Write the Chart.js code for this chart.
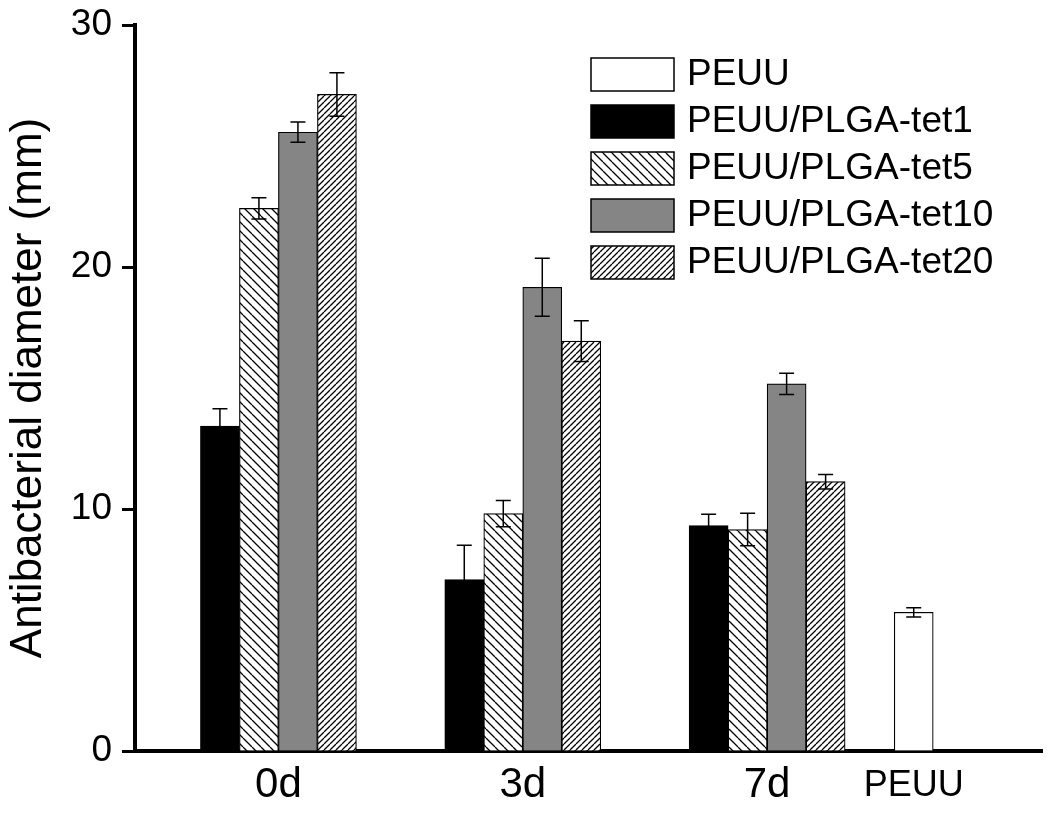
<!DOCTYPE html>
<html>
<head>
<meta charset="utf-8">
<title>Antibacterial diameter</title>
<script src="https://cdn.jsdelivr.net/npm/chart.js@4.4.0/dist/chart.umd.min.js"></script>
<style>
    html, body { margin: 0; padding: 0; background: #fff; }
    #wrap { width: 1050px; height: 817px; }
</style>
</head>
<body>
<div id="wrap"><canvas id="diameterChart" width="1050" height="817"></canvas></div>
<script>
// Antibacterial diameter - grouped bars with error bars

const groups = ['0d', '3d', '7d', 'PEUU'];
const seriesNames = ['PEUU', 'PEUU/PLGA-tet1', 'PEUU/PLGA-tet5', 'PEUU/PLGA-tet10', 'PEUU/PLGA-tet20'];

const peuu = [null, null, null, 5.73];
const peuuErr = [null, null, null, 0.19];
const tet1 = [13.43, 7.08, 9.31, null];
const tet1Err = [0.71, 1.42, 0.47, null];
const tet5 = [22.42, 9.81, 9.15, null];
const tet5Err = [0.44, 0.54, 0.67, null];
const tet10 = [25.57, 19.16, 15.17, null];
const tet10Err = [0.42, 1.2, 0.44, null];
const tet20 = [27.13, 16.94, 11.13, null];
const tet20Err = [0.9, 0.84, 0.3, null];

const yTicks = [0, 10, 20, 30];

// where each group sits on the x axis (the PEUU control sits closer to 7d)
const groupPos = [0, 1, 2, 2.6];

const FONT = '"Liberation Sans", Arial, Helvetica, sans-serif';

// diagonal hatch fill
function hatch(size, forward) {
    const c = document.createElement('canvas');
    c.width = size;
    c.height = size;
    const g = c.getContext('2d');
    g.fillStyle = '#fff';
    g.fillRect(0, 0, size, size);
    g.strokeStyle = '#000';
    g.lineWidth = 1.3;
    g.beginPath();
    for (const k of [-size, 0, size]) {
        if (forward) {
            g.moveTo(k, size);
            g.lineTo(k + size, 0);
        } else {
            g.moveTo(k, 0);
            g.lineTo(k + size, size);
        }
    }
    g.stroke();
    return g.createPattern(c, 'repeat');
}

const fills = ['#ffffff', '#000000', hatch(9, false), '#858585', hatch(6, true)];
const values = [peuu, tet1, tet5, tet10, tet20];
const errors = [peuuErr, tet1Err, tet5Err, tet10Err, tet20Err];

const datasets = seriesNames.map(function (name, i) {
    return {
        label: name,
        data: values[i].map(function (v, j) { return { x: groupPos[j], y: v }; }),
        errors: errors[i],
        backgroundColor: fills[i],
        borderColor: '#000',
        borderWidth: 1.2,
        barThickness: 39,
        skipNull: true
    };
});

// error bars drawn from each bar's value +/- error
const errorBars = {
    id: 'errorBars',
    afterDatasetsDraw(chart) {
        const ctx = chart.ctx;
        const yScale = chart.scales.y;
        ctx.save();
        ctx.strokeStyle = '#000';
        ctx.lineWidth = 1.5;
        chart.data.datasets.forEach(function (ds, i) {
            const meta = chart.getDatasetMeta(i);
            meta.data.forEach(function (bar, j) {
                const v = ds.data[j].y;
                const e = ds.errors[j];
                if (v === null || e === null) return;
                const top = yScale.getPixelForValue(v + e);
                const bot = yScale.getPixelForValue(v - e);
                const half = 7.5;
                ctx.beginPath();
                ctx.moveTo(bar.x, top);
                ctx.lineTo(bar.x, bot);
                ctx.moveTo(bar.x - half, top);
                ctx.lineTo(bar.x + half, top);
                ctx.moveTo(bar.x - half, bot);
                ctx.lineTo(bar.x + half, bot);
                ctx.stroke();
            });
        });
        ctx.restore();
    }
};

// legend in the upper right of the plot
const boxLegend = {
    id: 'boxLegend',
    afterDraw(chart) {
        const ctx = chart.ctx;
        const area = chart.chartArea;
        const x0 = area.left + 456;
        const y0 = area.top + 33;
        ctx.save();
        ctx.font = '37px ' + FONT;
        ctx.textBaseline = 'middle';
        ctx.textAlign = 'left';
        chart.data.datasets.forEach(function (ds, i) {
            const y = y0 + i * 47;
            ctx.fillStyle = ds.backgroundColor;
            ctx.fillRect(x0, y, 83, 33);
            ctx.strokeStyle = '#000';
            ctx.lineWidth = 1.5;
            ctx.strokeRect(x0, y, 83, 33);
            ctx.fillStyle = '#000';
            ctx.fillText(ds.label, x0 + 96, y + 17);
        });
        ctx.restore();
    }
};

new Chart(document.getElementById('diameterChart').getContext('2d'), {
    type: 'bar',
    data: { datasets: datasets },
    options: {
        responsive: false,
        animation: false,
        devicePixelRatio: 1,
        layout: {
            padding: { top: 25, right: 8, left: 0, bottom: 0 }
        },
        plugins: {
            legend: { display: false },
            tooltip: { enabled: false }
        },
        scales: {
            x: {
                type: 'linear',
                min: -0.587,
                max: 3.125,
                offset: false,
                stacked: false,
                afterBuildTicks: function (scale) {
                    scale.ticks = groupPos.map(function (v) { return { value: v }; });
                },
                afterFit: function (scale) {
                    scale.height = 66;
                },
                ticks: {
                    autoSkip: false,
                    maxRotation: 0,
                    padding: 9,
                    color: '#000',
                    font: function (context) {
                        if (groups[context.index] === 'PEUU') {
                            return { family: FONT, size: 36, lineHeight: 1.46 };
                        }
                        return { family: FONT, size: 42, lineHeight: 1.2 };
                    },
                    callback: function (value, index) {
                        return groups[index];
                    }
                },
                grid: { display: false, drawTicks: false },
                border: { display: true, color: '#000', width: 4 }
            },
            y: {
                min: 0,
                max: 30,
                stacked: false,
                afterBuildTicks: function (scale) {
                    scale.ticks = yTicks.map(function (v) { return { value: v }; });
                },
                afterFit: function (scale) {
                    scale.width = 135;
                    // labels may overhang the plot, the padding is given by layout
                    scale.paddingTop = 0;
                    scale.paddingBottom = 0;
                },
                ticks: {
                    padding: 10,
                    color: '#000',
                    font: { family: FONT, size: 37 }
                },
                grid: {
                    drawOnChartArea: false,
                    drawTicks: true,
                    tickLength: 13,
                    tickWidth: 3,
                    tickColor: '#000'
                },
                border: { display: true, color: '#000', width: 4 },
                title: {
                    display: true,
                    text: 'Antibacterial diameter (mm)',
                    color: '#000',
                    font: { family: FONT, size: 44 },
                    padding: { top: 2, bottom: 0 }
                }
            }
        }
    },
    plugins: [errorBars, boxLegend]
});
</script>
</body>
</html>
